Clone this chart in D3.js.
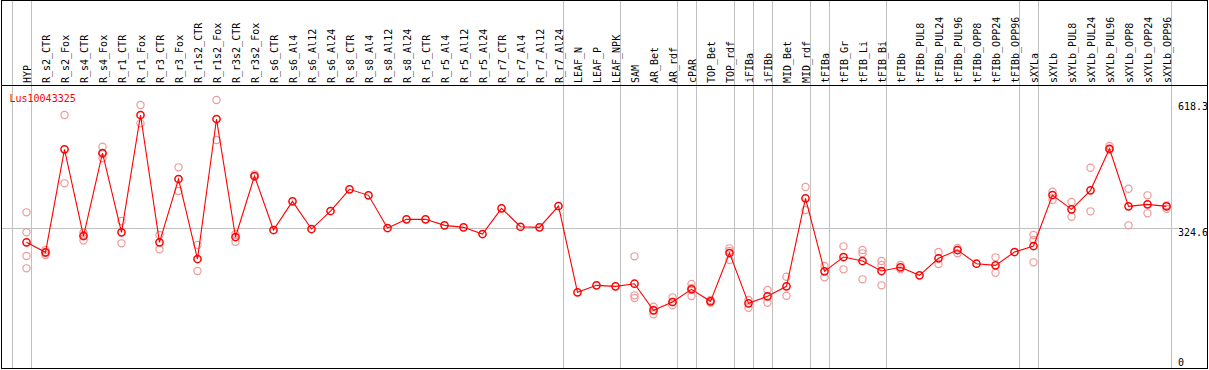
<!DOCTYPE html>
<html><head><meta charset="utf-8">
<script src="https://cdn.jsdelivr.net/npm/d3@7"></script>
<style>
html,body{margin:0;padding:0;background:#fff;}
svg{display:block;}
text{font-family:"DejaVu Sans Mono",monospace;font-size:10px;}
</style></head>
<body><svg id="chart" width="1209" height="370"></svg>
<script>
const geneId = "Lus10043325";
const categories = ["HYP","R_s2_CTR","R_s2_Fox","R_s4_CTR","R_s4_Fox","R_r1_CTR","R_r1_Fox","R_r3_CTR","R_r3_Fox","R_r1s2_CTR","R_r1s2_Fox","R_r3s2_CTR","R_r3s2_Fox","R_s6_CTR","R_s6_Al4","R_s6_Al12","R_s6_Al24","R_s8_CTR","R_s8_Al4","R_s8_Al12","R_s8_Al24","R_r5_CTR","R_r5_Al4","R_r5_Al12","R_r5_Al24","R_r7_CTR","R_r7_Al4","R_r7_Al12","R_r7_Al24","LEAF_N","LEAF_P","LEAF_NPK","SAM","AR_Bet","AR_rdf","cPAR","TOP_Bet","TOP_rdf","iFIBa","iFIBb","MID_Bet","MID_rdf","tFIBa","tFIB_Gr","tFIB_Li","tFIB_Bi","tFIBb","tFIBb_PUL8","tFIBb_PUL24","tFIBb_PUL96","tFIBb_OPP8","tFIBb_OPP24","tFIBb_OPP96","sXYLa","sXYLb","sXYLb_PUL8","sXYLb_PUL24","sXYLb_PUL96","sXYLb_OPP8","sXYLb_OPP24","sXYLb_OPP96"];
const means = [290.9,267.9,504.8,305.4,496.3,313.9,583.7,290.9,436.5,252.5,574.5,303.1,443.4,319.2,385.2,321.5,362.9,412.8,399.0,323.8,343.8,343.8,330.0,325.4,310.0,369.1,326.8,325.4,374.4,175.9,192.0,189.7,195.7,134.5,153.6,182.8,155.2,266.3,150.6,166.7,189.7,392.1,224.2,257.1,247.9,224.9,233.4,215.0,254.1,273.2,241.7,238.0,268.6,282.4,399.7,366.8,410.5,506.2,373.7,378.3,373.7];
const replicates = [
 [359.9,313.9,259.4,231.1],[273.2,266.3,261.7],[583.7,426.6],[313.5,307.7,295.1],[510.8,494.0,484.1],
 [339.9,288.6],[606.7,564.6],[307.7,274.8],[463.4,408.9],[284.7,224.9],
 [618.3,526.2],[310.0,292.3],[447.3,441.8],[],[],
 [],[],[],[],[],
 [],[],[],[],[],
 [],[],[],[],[],
 [],[],[258.7,169.0,162.8],[142.8,125.3,135.2],[164.4,146.0,153.6],
 [195.0,167.4,185.8],[158.2,152.0],[277.1,250.2,270.9],[158.2,140.5],[181.2,152.0],
 [211.8,168.1],[418.1,365.2],[236.4,210.4],[281.7,228.8],[273.2,265.6,205.8],
 [247.9,238.7,192.0],[238.7,228.8],[],[268.6,241.0],[277.8,265.6],
 [],[256.4,221.0],[],[307.7,296.2,244.9],[407.3,388.2],
 [383.6,349.8],[462.5,362.2],[512.4,503.2],[414.2,330.0],[399.0,357.6],
 [376.0,368.2]
];
const groupEnds = ["HYP","R_r7_Al24","LEAF_NPK","AR_rdf","cPAR","TOP_rdf","iFIBa","iFIBb","MID_rdf","tFIBa","tFIB_Bi","tFIBb_OPP96","sXYLa","sXYLb_OPP96"];
const yTicks = [0, 324.6, 618.3];
const refValue = 324.6;

const svg = d3.select("#chart");
const x = d3.scalePoint().domain(categories).range([26.5, 1166.5]);
const step = x.step();
const y = d3.scaleLinear().domain([0, 618.3]).range([368.8, 100]);

const grid = "#c0c0c0";
// vertical group separators
const sepX = [x(categories[0]) - step + 4].concat(groupEnds.map(c => x(c) + 4));
svg.selectAll("line.sep").data(sepX).join("line").attr("class","sep")
  .attr("x1", d => Math.round(d)+0.5).attr("x2", d => Math.round(d)+0.5)
  .attr("y1", 0).attr("y2", 369).attr("stroke", grid).attr("stroke-width", 1);
// horizontal reference line
svg.append("line").attr("x1", 1).attr("x2", 1178)
  .attr("y1", Math.round(y(refValue))+0.5).attr("y2", Math.round(y(refValue))+0.5)
  .attr("stroke", grid);
// frame
svg.append("rect").attr("x",1.5).attr("y",0.5).attr("width",1206).attr("height",368)
  .attr("fill","none").attr("stroke","#000");
svg.append("line").attr("x1",1).attr("x2",1208).attr("y1",85.5).attr("y2",85.5).attr("stroke","#000");

// category labels (rotated)
svg.selectAll("text.cat").data(categories).join("text").attr("class","cat")
  .attr("transform", d => `translate(${x(d)+4},83) rotate(-90)`)
  .attr("text-anchor","start").attr("fill","#000")
  .text(d => d);

// y tick labels on the right
svg.selectAll("text.ytick").data(yTicks).join("text").attr("class","ytick")
  .attr("x", 1178).attr("y", d => Math.max(110, Math.min(366, y(d) + 8.5)))
  .attr("fill","#000").text(d => d);

// gene id
svg.append("text").attr("x", 9.5).attr("y", 101.5).attr("fill","#ff0000").text(geneId);

// replicates
const repData = [];
replicates.forEach((arr, i) => arr.forEach(v => repData.push({c: categories[i], v})));
svg.selectAll("circle.rep").data(repData).join("circle").attr("class","rep")
  .attr("cx", d => x(d.c)).attr("cy", d => y(d.v)).attr("r", 3.6)
  .attr("fill","none").attr("stroke","#ee9a9a").attr("stroke-width",1.2);

// mean line
const line = d3.line().x((d,i) => x(categories[i])).y(d => y(d));
svg.append("path").datum(means).attr("d", line)
  .attr("fill","none").attr("stroke","#ff0000").attr("stroke-width",1.1);

// mean points
svg.selectAll("circle.mean").data(means).join("circle").attr("class","mean")
  .attr("cx", (d,i) => x(categories[i])).attr("cy", d => y(d)).attr("r", 3.6)
  .attr("fill","none").attr("stroke","#ff0000").attr("stroke-width",1.5);
</script></body></html>
